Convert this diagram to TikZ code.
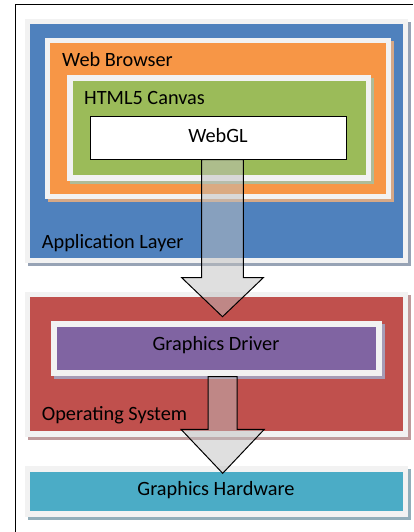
\documentclass[tikz,border=0pt]{standalone}
\usepackage{fontspec}
\setmainfont{Carlito}
\definecolor{rim}{HTML}{F2F2F2}
\definecolor{appblue}{HTML}{4F81BD}
\definecolor{wborange}{HTML}{F79646}
\definecolor{htgreen}{HTML}{9BBB59}
\definecolor{osred}{HTML}{C0504D}
\definecolor{drpurple}{HTML}{8064A2}
\definecolor{hwteal}{HTML}{4BACC6}
\definecolor{appsh}{HTML}{97A3B5}
\definecolor{wbsh}{HTML}{D6A886}
\definecolor{htsh}{HTML}{AEBB98}
\definecolor{ossh}{HTML}{BF9A9B}
\definecolor{drsh}{HTML}{A69CB6}
\definecolor{hwsh}{HTML}{92AEBA}
\begin{document}
\begin{tikzpicture}[x=1pt,y=-1pt,
  rimbox/.style={rectangle, inner sep=0pt, draw=rim, line width=5.5pt},
  shadowed/.style={preaction={draw=#1, fill=#1, transform canvas={shift={(3pt,-3pt)}}}},
  lbl/.style={font=\fontsize{20.3}{24}\selectfont, text=black, inner sep=0pt},
  bigarrow/.style={draw=black, line width=1pt, fill=black!25, fill opacity=0.5, line join=miter}
]
\useasboundingbox (0,0) rectangle (413,532);
\draw[line width=1pt] (15,532) -- (15,5) -- (413,5);

% Application layer
\node[rimbox, shadowed=appsh, fill=appblue, minimum width=377.75pt, minimum height=239pt] (app) at (216.4,141) {};
\node[lbl, anchor=base west] (applbl) at (41.7,248.3) {Application Layer};
% Web browser
\node[rimbox, shadowed=wbsh, fill=wborange, minimum width=341pt, minimum height=156pt] (wb) at (218,118.5) {};
\node[lbl, anchor=base west] (wblbl) at (62,66.7) {Web Browser};
% HTML5 canvas
\node[rimbox, shadowed=htsh, fill=htgreen, minimum width=298.5pt, minimum height=100pt] (ht) at (219.25,128) {};
\node[lbl, anchor=base west] (htlbl) at (84,105) {HTML5 Canvas};
% WebGL
\node[draw=black, line width=1pt, fill=white, minimum width=256pt, minimum height=43pt, inner sep=0pt] (webgl) at (218,137.5) {};
\node[lbl, anchor=base] (webgllbl) at (218,142.7) {WebGL};

% Operating system
\node[rimbox, shadowed=ossh, fill=osred, minimum width=377.75pt, minimum height=139.5pt] (os) at (216.4,364.25) {};
\node[lbl, anchor=base west] (oslbl) at (41.7,420.7) {Operating System};
% Graphics driver
\node[rimbox, shadowed=drsh, fill=drpurple, minimum width=325pt, minimum height=49pt] (drv) at (216.5,348.5) {};
\node[lbl, anchor=base] (drvlbl) at (216,350) {Graphics Driver};

% Graphics hardware
\node[rimbox, shadowed=hwsh, fill=hwteal, minimum width=377.75pt, minimum height=45pt] (hw) at (216.4,491.5) {};
\node[lbl, anchor=base] (hwlbl) at (216,495) {Graphics Hardware};

% Arrows
\coordinate (a1) at (222.5,159.5);
\coordinate (a1tip) at (222.5,316.7);
\draw[bigarrow] (a1) ++(-20.8,0) -- ++(41.6,0) -- (243.3,277.7) -- (263.3,277.7) -- (a1tip) -- (181.7,277.7) -- (201.7,277.7) -- cycle;

\coordinate (a2) at (222.5,376.5);
\coordinate (a2tip) at (222.7,473.3);
\draw[bigarrow] (a2) ++(-14.5,0) -- ++(29,0) -- (237,429.3) -- (264.3,429.3) -- (a2tip) -- (181,429.3) -- (208,429.3) -- cycle;
\end{tikzpicture}
\end{document}
